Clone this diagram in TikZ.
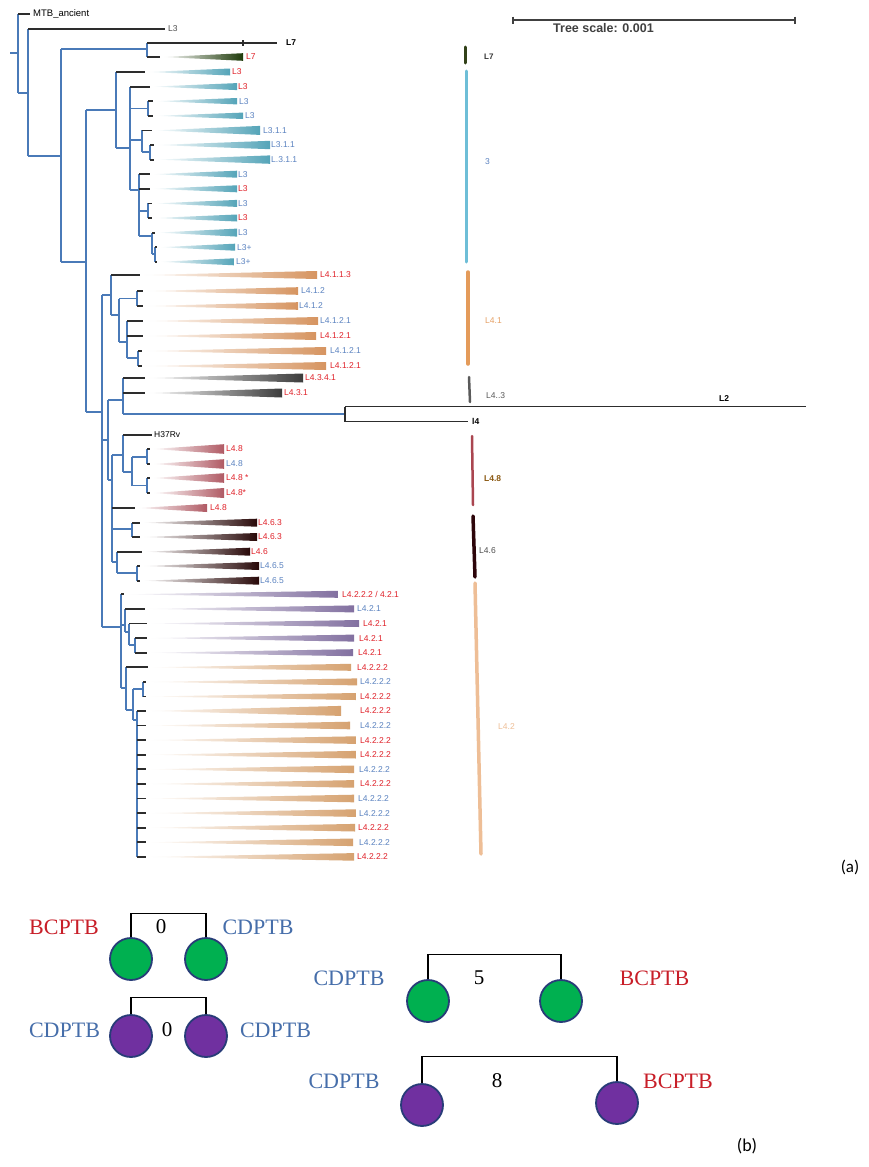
\documentclass[tikz,border=0pt]{standalone}
\usepackage{fontspec}
\setmainfont{Liberation Serif}
\newfontfamily\arialf{Liberation Sans}
\newfontfamily\calib{Carlito}
\definecolor{treeblue}{RGB}{74,122,184}
\definecolor{stubc}{RGB}{45,45,45}
\definecolor{labred}{RGB}{224,32,40}
\definecolor{labblue}{RGB}{90,130,192}
\definecolor{lsevgreen}{RGB}{30,58,10}
\definecolor{lthree}{RGB}{84,164,184}
\definecolor{lfouron}{RGB}{214,148,96}
\definecolor{lfourthr}{RGB}{60,60,60}
\definecolor{lfoureig}{RGB}{176,90,100}
\definecolor{lfoursix}{RGB}{40,8,8}
\definecolor{lfourtwp}{RGB}{130,112,160}
\definecolor{lfourtwo}{RGB}{214,162,112}
\definecolor{bred}{RGB}{200,30,40}
\definecolor{bblue}{RGB}{70,110,170}
\definecolor{navyc}{RGB}{40,60,120}
\definecolor{greenc}{RGB}{0,176,80}
\definecolor{purpc}{RGB}{112,48,160}
\newcounter{lfn}
\newcommand{\leafx}[9]{%
  \draw[stub] (#2,#1) -- (#3,#1);
  \shade[left color=white, right color=#6] ({#3+3},#1) -- (#4,{#1-#5}) -- (#4,{#1+#5}) -- cycle;
  \stepcounter{lfn}%
  \node[lab, text=#8] (lf\arabic{lfn}) at (#9,#1) {#7};
}
\begin{document}
\begin{tikzpicture}[x=1pt,y=-1pt,
  br/.style={draw=treeblue, line width=1.2pt},
  stub/.style={draw=stubc, line width=1.8pt},
  blk/.style={draw=stubc, line width=1.4pt},
  lab/.style={font=\arialf\fontsize{8.5}{9}\selectfont, anchor=west, inner sep=0pt},
  barc/.style={line width=3pt, line cap=round},
  tx/.style={font=\fontsize{22}{24}\selectfont, inner sep=0pt},
  num/.style={font=\fontsize{21}{23}\selectfont, inner sep=0pt},
  gc/.style={circle, minimum size=42pt, inner sep=0pt, draw=navyc, line width=1.8pt, fill=greenc},
  pc/.style={circle, minimum size=42pt, inner sep=0pt, draw=navyc, line width=1.8pt, fill=purpc},
  brk/.style={draw=black, line width=1.2pt}]
\useasboundingbox (0,0) rectangle (868,1167);
\fill[white] (0,0) rectangle (868,1167);

% ---------------- scale bar
\draw[draw=black!75, line width=1.3pt] (513,20) -- (795,20);
\draw[draw=black!75, line width=1.3pt] (513,16.5) -- (513,23.5) (795,16.5) -- (795,23.5);
\node[font=\arialf\bfseries\fontsize{12.5}{14}\selectfont, text=black!75, anchor=west, inner sep=0pt] (scl) at (553,28) {Tree scale: 0.001};

% ---------------- backbone
\draw[br] (10,53) -- (18,53);
\draw[br] (18,14) -- (18,93);
\draw[blk] (18,14) -- (30,14);
\node[lab, font=\arialf\fontsize{9.5}{10}\selectfont] (mtb) at (33,14) {MTB\_ancient};
\draw[br] (18,93) -- (28,93);
\draw[br] (28,29) -- (28,156);
\draw[blk] (28,29) -- (165,29);
\node[lab, text=black!70] (lthr) at (168,29) {L3};
\draw[br] (28,156) -- (61,156);
\draw[br] (61,49) -- (61,262);
\draw[br] (61,49) -- (147,49);
\draw[br] (147,43) -- (147,57);
\draw[blk] (147,43) -- (277,43);
\draw[blk] (243,40) -- (243,46);
\node[lab, font=\arialf\bfseries\fontsize{8.5}{9}\selectfont] (lsev) at (286,43) {L7};
\leafx{57}{147}{160}{243}{3.8}{lsevgreen}{L7}{labred}{246}
\draw[br] (61,262) -- (86,262);
\draw[br] (86,110) -- (86,412);
\draw[br] (86,110) -- (116,110);

% ---------------- L3 clade
\draw[br] (116,72) -- (116,148) (116,148) -- (130,148) (130,86.6) -- (130,190)
  (130,108.5) -- (148,108.5) (148,101.2) -- (148,115.8)
  (130,140) -- (142,140) (142,130.4) -- (142,152) (142,152) -- (150,152) (150,145) -- (150,159.6)
  (130,190) -- (139,190) (139,174.2) -- (139,236)
  (139,211) -- (148,211) (148,203.4) -- (148,218)
  (139,236) -- (152,236) (152,232.6) -- (152,254) (152,254) -- (155,254) (155,247.2) -- (155,261.8);
\leafx{72}{116}{145}{230}{3.5}{lthree}{L3}{labred}{232}
\leafx{86.6}{130}{150}{237}{3.5}{lthree}{L3}{labred}{238}
\leafx{101.2}{148}{153}{237}{3.2}{lthree}{L3}{labblue}{239}
\leafx{115.8}{148}{153}{243}{3.2}{lthree}{L3}{labblue}{245}
\leafx{130.4}{142}{152}{260}{4.5}{lthree}{L3.1.1}{labblue}{263}
\leafx{145}{150}{154}{270}{4.2}{lthree}{L3.1.1}{labblue}{271}
\leafx{159.6}{150}{154}{270}{4.2}{lthree}{L.3.1.1}{labblue}{271}
\leafx{174.2}{139}{150}{237}{3.5}{lthree}{L3}{labblue}{238}
\leafx{188.8}{139}{150}{237}{3.5}{lthree}{L3}{labred}{238}
\leafx{203.4}{148}{152}{237}{3.5}{lthree}{L3}{labblue}{238}
\leafx{218}{148}{152}{237}{3.5}{lthree}{L3}{labred}{238}
\leafx{232.6}{152}{155}{237}{4}{lthree}{L3}{labblue}{238}
\leafx{247.2}{155}{157}{235}{3.5}{lthree}{L3+}{labblue}{237}
\leafx{261.8}{155}{157}{234}{3.5}{lthree}{L3+}{labblue}{236}

% ---------------- L4 backbone
\draw[br] (86,412) -- (102,412) (102,295) -- (102,627);
% L4.1
\draw[br] (102,295) -- (111,295) (111,275) -- (111,315) (111,315) -- (119,315)
  (119,298.5) -- (119,342) (119,298.5) -- (137,298.5) (137,291) -- (137,306)
  (119,342) -- (127,342) (127,321) -- (127,358) (127,358) -- (138,358) (138,351) -- (138,366);
\leafx{275}{111}{140}{317}{4}{lfouron}{L4.1.1.3}{labred}{320}
\leafx{291}{137}{143}{298}{3.8}{lfouron}{L4.1.2}{labblue}{301}
\leafx{306}{137}{143}{298}{3.8}{lfouron}{L4.1.2}{labblue}{299}
\leafx{321}{127}{143}{318}{4}{lfouron}{L4.1.2.1}{labblue}{320}
\leafx{336}{127}{143}{316}{4}{lfouron}{L4.1.2.1}{labred}{320}
\leafx{351}{138}{142}{326}{4}{lfouron}{L4.1.2.1}{labblue}{330}
\leafx{366}{138}{142}{326}{4}{lfouron}{L4.1.2.1}{labred}{330}
% L4.3 and L2
\draw[br] (102,440) -- (108,440) (108,400) -- (108,480) (108,400) -- (123,400)
  (123,378) -- (123,414) (123,414) -- (345,414);
\leafx{378}{123}{145}{303}{4.5}{lfourthr}{L4.3.4.1}{labred}{305}
\leafx{393}{123}{145}{282}{4.5}{lfourthr}{L4.3.1}{labred}{284}
\draw[blk] (345,406.5) -- (345,421.5) (345,406.5) -- (806,406.5) (345,421.5) -- (468,421.5);
\node[lab, font=\arialf\bfseries\fontsize{8.5}{9}\selectfont] (ltwo) at (719,399) {L2};
\node[lab, font=\arialf\bfseries\fontsize{8.5}{9}\selectfont] (lfour) at (472,421.5) {l4};
% L4.8 / H37Rv
\draw[br] (108,480) -- (112,480) (112,455) -- (112,562) (112,455) -- (123,455)
  (123,435) -- (123,472) (123,472) -- (132,472) (132,457) -- (132,485.5)
  (132,457) -- (147,457) (147,449) -- (147,464)
  (132,485.5) -- (147,485.5) (147,478) -- (147,493);
\draw[blk] (123,435) -- (152,435);
\node[lab, text=black] (hrv) at (154,435) {H37Rv};
\leafx{449}{147}{150}{224}{4.8}{lfoureig}{L4.8}{labred}{226}
\leafx{464}{147}{150}{224}{4.8}{lfoureig}{L4.8}{labblue}{226}
\leafx{478}{147}{150}{224}{4.8}{lfoureig}{L4.8 *}{labred}{226}
\leafx{493}{147}{150}{224}{5}{lfoureig}{L4.8*}{labred}{226}
\leafx{508}{112}{135}{207}{4}{lfoureig}{L4.8}{labred}{210}
% L4.6
\draw[br] (112,529) -- (132,529) (132,522.7) -- (132,537)
  (112,562) -- (117,562) (117,551.7) -- (117,573) (117,573) -- (137,573) (137,566) -- (137,580.7);
\leafx{522.7}{132}{140}{257}{4}{lfoursix}{L4.6.3}{labred}{258}
\leafx{537}{132}{140}{257}{4}{lfoursix}{L4.6.3}{labred}{258}
\leafx{551.7}{117}{142}{250}{4}{lfoursix}{L4.6}{labred}{251}
\leafx{566}{137}{140}{259}{4}{lfoursix}{L4.6.5}{labblue}{260}
\leafx{580.7}{137}{140}{259}{4}{lfoursix}{L4.6.5}{labblue}{260}
% L4.2
\draw[br] (102,627) -- (121,627) (121,594.3) -- (121,688)
  (121,625) -- (125,625) (125,608.9) -- (125,632) (125,632) -- (129,632) (129,623.5) -- (129,645)
  (129,645) -- (135,645) (135,638.1) -- (135,652.7)
  (121,688) -- (126,688) (126,667.3) -- (126,710) (126,710) -- (133,710) (133,689) -- (133,720)
  (133,689) -- (143,689) (143,681.9) -- (143,696.5) (133,720) -- (137,720) (137,710.9) -- (137,856.9);
\leafx{594.3}{121}{124}{338}{3.5}{lfourtwp}{L4.2.2.2 / 4.2.1}{labred}{342}
\leafx{608.9}{125}{145}{354}{3.5}{lfourtwp}{L4.2.1}{labblue}{357}
\leafx{623.5}{129}{147}{359}{3.5}{lfourtwp}{L4.2.1}{labred}{363}
\leafx{638.1}{135}{147}{354}{3.5}{lfourtwp}{L4.2.1}{labred}{359}
\leafx{652.7}{135}{147}{353}{3.5}{lfourtwp}{L4.2.1}{labred}{358}
\leafx{667.3}{126}{148}{351}{3.5}{lfourtwo}{L4.2.2.2}{labred}{357}
\leafx{681.9}{143}{146}{357}{3.5}{lfourtwo}{L4.2.2.2}{labblue}{360}
\leafx{696.5}{143}{146}{356}{3.5}{lfourtwo}{L4.2.2.2}{labred}{360}
\leafx{710.9}{137}{146}{341}{5}{lfourtwo}{L4.2.2.2}{labred}{360}
\leafx{725.5}{137}{146}{350}{3.8}{lfourtwo}{L4.2.2.2}{labblue}{360}
\leafx{740.1}{137}{146}{356}{3.8}{lfourtwo}{L4.2.2.2}{labred}{360}
\leafx{754.7}{137}{146}{356}{3.8}{lfourtwo}{L4.2.2.2}{labred}{360}
\leafx{769.3}{137}{146}{354}{3.8}{lfourtwo}{L4.2.2.2}{labblue}{359}
\leafx{783.9}{137}{146}{354}{3.8}{lfourtwo}{L4.2.2.2}{labred}{360}
\leafx{798.5}{137}{146}{354}{3.8}{lfourtwo}{L4.2.2.2}{labblue}{358}
\leafx{813.1}{137}{146}{356}{3.8}{lfourtwo}{L4.2.2.2}{labblue}{359}
\leafx{827.7}{137}{146}{355}{3.8}{lfourtwo}{L4.2.2.2}{labred}{358}
\leafx{842.3}{137}{146}{353}{3.8}{lfourtwo}{L4.2.2.2}{labblue}{359}
\leafx{856.9}{137}{146}{354}{3.8}{lfourtwo}{L4.2.2.2}{labred}{357}

% ---------------- lineage bars
\draw[barc, draw={rgb,255:red,50;green,65;blue,25}] (465,47) -- (465,63);
\draw[barc, draw={rgb,255:red,110;green,190;blue,215}] (466,71) -- (466,262);
\draw[barc, line width=3.5pt, draw={rgb,255:red,228;green,155;blue,90}] (468,272) -- (468,364);
\draw[barc, line width=2.5pt, draw={rgb,255:red,90;green,90;blue,90}] (469,377) -- (470,402);
\draw[barc, line width=2.5pt, draw={rgb,255:red,170;green,70;blue,80}] (472,436) -- (473,505);
\draw[barc, line width=3.5pt, draw={rgb,255:red,45;green,5;blue,10}] (473,516) -- (475,577);
\draw[barc, line width=3.5pt, draw={rgb,255:red,238;green,190;blue,150}] (475,583) -- (481,854);
\node[lab, font=\arialf\bfseries\fontsize{8}{9}\selectfont, text=black!80] (bsev) at (484,57) {L7};
\node[lab, text=labblue] (bthr) at (485,162) {3};
\node[lab, text={rgb,255:red,230;green,160;blue,100}] (bfon) at (485,321) {L4.1};
\node[lab, text=black!65] (bfth) at (486,396) {L4..3};
\node[lab, font=\arialf\bfseries\fontsize{8.5}{9}\selectfont, text={rgb,255:red,140;green,90;blue,20}] (bfei) at (484,479) {L4.8};
\node[lab, text=black!70] (bfsi) at (479,551) {L4.6};
\node[lab, text={rgb,255:red,238;green,190;blue,150}] (bftw) at (498,727) {L4.2};
\node[font=\calib\fontsize{17}{19}\selectfont, inner sep=0pt] (pa) at (850,867) {(a)};

% ---------------- part (b)
\node[gc] (g1) at (131,959) {};
\node[gc] (g2) at (206,959) {};
\draw[brk] (g1.north) -- ++(0,-24) -| (g2.north);
\node[tx, text=bred] (t1) at (64,927) {BCPTB};
\node[num] (n1) at (161,927) {0};
\node[tx, text=bblue] (t2) at (258,927) {CDPTB};

\node[pc] (p1) at (131,1036) {};
\node[pc] (p2) at (206,1036) {};
\draw[brk] (p1.north) -- ++(0,-17) -| (p2.north);
\node[tx, text=bblue] (t3) at (64.5,1030) {CDPTB};
\node[num] (n2) at (167,1030) {0};
\node[tx, text=bblue] (t4) at (275.5,1030) {CDPTB};

\node[gc] (g3) at (428,1001) {};
\node[gc] (g4) at (561,1001) {};
\draw[brk] (g3.north) -- ++(0,-25) -| (g4.north);
\node[tx, text=bblue] (t5) at (349,978) {CDPTB};
\node[num] (n3) at (479,978) {5};
\node[tx, text=bred] (t6) at (654.5,978) {BCPTB};

\node[pc] (p3) at (422,1105) {};
\node[pc] (p4) at (617,1103) {};
\draw[brk] (p3.north) -- ++(0,-27) -| (p4.north);
\node[tx, text=bblue] (t7) at (344,1081) {CDPTB};
\node[num] (n4) at (497,1081) {8};
\node[tx, text=bred] (t8) at (678,1081) {BCPTB};
\node[font=\calib\fontsize{18}{20}\selectfont, inner sep=0pt] (pb) at (747,1146) {(b)};
\end{tikzpicture}
\end{document}
